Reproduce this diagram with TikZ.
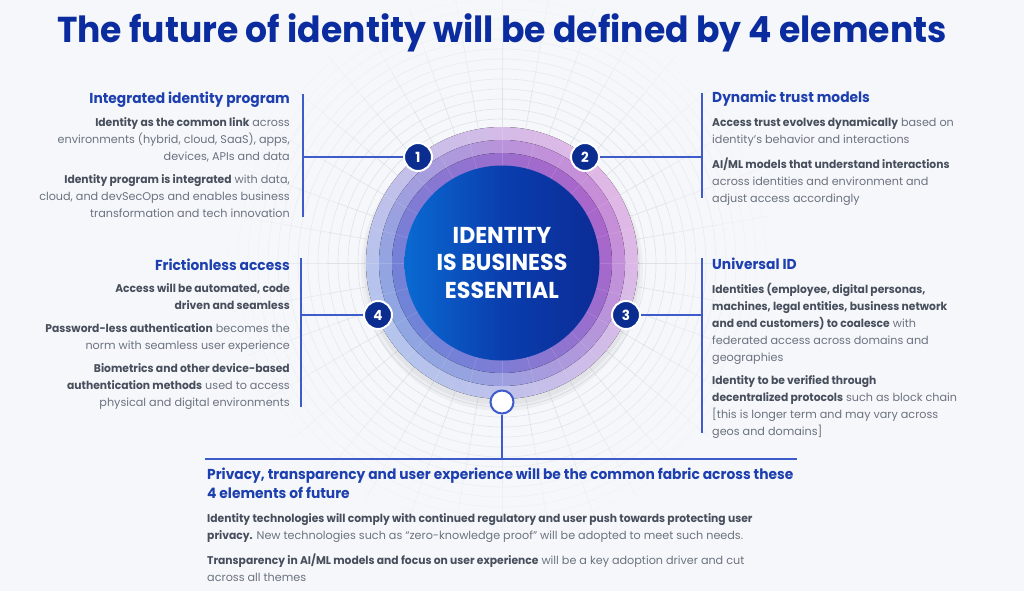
\documentclass[tikz,border=0pt]{standalone}
\usepackage{fontspec}
\setmainfont{Poppins}[BoldFeatures={FakeStretch=0.96}]
\usetikzlibrary{calc}
\definecolor{bg}{HTML}{F5F7FA}
\definecolor{titlec}{HTML}{0B2C9E}
\definecolor{headc}{HTML}{1D3FAF}
\definecolor{bodyc}{HTML}{6B7280}
\definecolor{boldc}{HTML}{474E5C}
\definecolor{linec}{HTML}{3D5CC9}
\definecolor{gridc}{HTML}{DCE0E7}
\definecolor{badgec}{HTML}{0B2D8F}
\definecolor{rAl}{HTML}{B4C4EC}
\definecolor{rAr}{HTML}{E0B8E6}
\definecolor{rBl}{HTML}{8EA6E2}
\definecolor{rBr}{HTML}{C88ED8}
\definecolor{rCl}{HTML}{6F84D8}
\definecolor{rCr}{HTML}{AA66CA}
\definecolor{coreL}{HTML}{0A6AD2}
\definecolor{coreM}{HTML}{0A3EAE}
\definecolor{coreR}{HTML}{0B2C96}
\newcommand\bb[1]{\textcolor{boldc}{\bfseries #1}}
\begin{document}
\begin{tikzpicture}[x=1pt,y=-1pt,
  conn/.style={draw=linec,line width=1.5pt},
  badge/.style={circle,fill=badgec,draw=white,line width=2pt,minimum size=28pt,inner sep=0pt,text=white,font=\bfseries\fontsize{14}{14}\selectfont},
  body/.style={inner sep=0pt,font=\fontsize{11.2}{17}\selectfont,text=bodyc},
  head/.style={inner sep=0pt,font=\bfseries\fontsize{14.4}{19.5}\selectfont,text=headc},
  grid/.style={draw=gridc,line width=0.6pt},
  ring/.style={shading=axis,shading angle=120}]
\fill[bg] (0,0) rectangle (1024,591);
\useasboundingbox (0,0) rectangle (1024,591);
\coordinate (C) at (502,263);
% background grid
\foreach \r [count=\i] in {144,154,...,274} {
  \pgfmathsetmacro\op{1-0.07*\i}
  \draw[grid,opacity=\op] (C) circle (\r);
}
\foreach \a in {0,10,...,350} {
  \draw[grid,opacity=0.9] (C) ++(\a:136) -- ++(\a:40);
  \draw[grid,opacity=0.55] (C) ++(\a:176) -- ++(\a:45);
  \draw[grid,opacity=0.25] (C) ++(\a:221) -- ++(\a:50);
}
% shadow
\fill[black,opacity=0.035] (502,270) circle (141);
\fill[black,opacity=0.04] (502,267) circle (138);
% rings
\fill[left color=rAl,right color=rAr,ring] (C) circle (136);
\fill[left color=rBl,right color=rBr,ring] (C) circle (123);
\fill[left color=rCl,right color=rCr,ring] (C) circle (110);
\foreach \a in {0,15,...,345} {
  \draw[white,opacity=0.14,line width=0.6pt] (C) ++(\a:97) -- ++(\a:39);
}
\node[circle,minimum size=195pt,inner sep=0pt,left color=coreL,right color=coreR,middle color=coreM,
  text=white,align=center,font=\bfseries\fontsize{23}{27.5}\selectfont] (core) at (C) {IDENTITY\\IS BUSINESS\\ESSENTIAL};
% badges
\node[badge] (b1) at (418,157) {1};
\node[badge] (b2) at (585,157) {2};
\node[badge] (b3) at (626,315) {3};
\node[badge] (b4) at (378,315) {4};
\node[circle,fill=white,draw=linec,line width=2pt,minimum size=23pt,inner sep=0pt] (b0) at (502,402) {};
% connectors
\coordinate (v1a) at (303,94); \coordinate (v1b) at (303,217);
\coordinate (v2a) at (702,93); \coordinate (v2b) at (702,198);
\coordinate (v4a) at (301,258); \coordinate (v4b) at (301,407);
\coordinate (v3a) at (702,258); \coordinate (v3b) at (702,433);
\coordinate (hl) at (205,459); \coordinate (hr) at (797,459);
\draw[conn] (v1a) -- (v1b);
\draw[conn] (v2a) -- (v2b);
\draw[conn] (v4a) -- (v4b);
\draw[conn] (v3a) -- (v3b);
\draw[conn] (hl) -- (hr);
\draw[conn] (b1.west) -- (b1.west -| v1a);
\draw[conn] (b2.east) -- (b2.east -| v2a);
\draw[conn] (b3.east) -- (b3.east -| v3a);
\draw[conn] (b4.west) -- (b4.west -| v4a);
\draw[conn] (b0.south) -- (b0.south |- hl);
% title
\node[inner sep=0pt,anchor=base,text=titlec,font=\bfseries\fontsize{36}{40}\selectfont] (title) at (502,43) {The future of identity will be defined by 4 elements};
% block 1
\node[head,anchor=base east] (h1) at (290,103.5) {Integrated identity program};
\node[body,anchor=north east,align=right] (p11) at (290,117.5) {\bb{Identity as the common link} across\\environments (hybrid, cloud, SaaS), apps,\\devices, APIs and data};
\node[body,anchor=north east,align=right] (p12) at (290,174.5) {\bb{Identity program is integrated} with data,\\cloud, and devSecOps and enables business\\transformation and tech innovation};
% block 2
\node[head,anchor=base west] (h2) at (712,102.5) {Dynamic trust models};
\node[body,anchor=north west,align=left] (p21) at (712,117.5) {\bb{Access trust evolves dynamically} based on\\identity’s behavior and interactions};
\node[body,anchor=north west,align=left] (p22) at (712,157.5) {\bb{AI/ML models that understand interactions}\\across identities and environment and\\adjust access accordingly};
% block 4
\node[head,anchor=base east] (h4) at (290,270) {Frictionless access};
\node[body,anchor=north east,align=right] (p41) at (290,283.5) {\bb{Access will be automated, code}\\\bb{driven and seamless}};
\node[body,anchor=north east,align=right] (p42) at (290,323.5) {\bb{Password-less authentication} becomes the\\norm with seamless user experience};
\node[body,anchor=north east,align=right] (p43) at (290,363.5) {\bb{Biometrics and other device-based}\\\bb{authentication methods} used to access\\physical and digital environments};
% block 3
\node[head,anchor=base west] (h3) at (712,269) {Universal ID};
\node[body,anchor=north west,align=left] (p31) at (712,283.5) {\bb{Identities (employee, digital personas,}\\\bb{machines, legal entities, business network}\\\bb{and end customers) to coalesce} with\\federated access across domains and\\geographies};
\node[body,anchor=north west,align=left] (p32) at (712,375.5) {\bb{Identity to be verified through}\\\bb{decentralized protocols} such as block chain\\{[}this is longer term and may vary across\\geos and domains{]}};
% bottom
\node[head,anchor=north west,align=left] (h5) at (207,467.5) {Privacy, transparency and user experience will be the common fabric across these\\4 elements of future};
\node[body,anchor=north west,align=left] (p51) at (207,513.5) {\bb{Identity technologies will comply with continued regulatory and user push towards protecting user}\\\bb{privacy.} New technologies such as “zero-knowledge proof” will be adopted to meet such needs.};
\node[body,anchor=north west,align=left] (p52) at (207,553.5) {\bb{Transparency in AI/ML models and focus on user experience} will be a key adoption driver and cut\\across all themes};
\end{tikzpicture}
\end{document}
